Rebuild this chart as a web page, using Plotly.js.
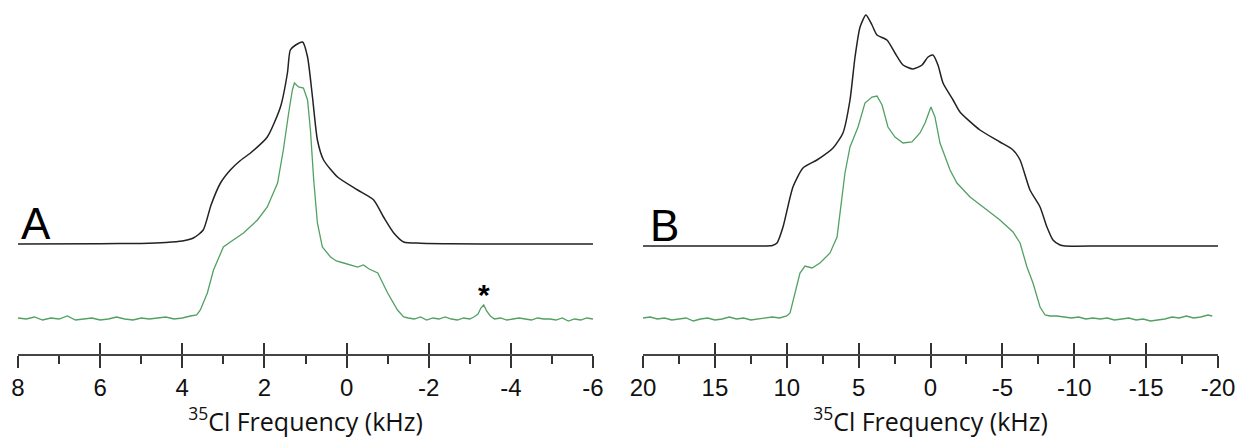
<!DOCTYPE html>
<html>
<head>
<meta charset="utf-8">
<script src="https://cdn.plot.ly/plotly-3.0.1.min.js"></script>
<style>html,body{margin:0;padding:0;background:#fff;}#chart{width:1240px;height:438px;}</style>
</head>
<body>
<div id="chart"></div>
<script>
// ---------- Panel A data (kHz, intensity a.u.) ----------
const simA_x = [8.0, 6.0, 5.0, 4.4, 4.0, 3.73, 3.49, 3.3, 3.07, 2.83, 2.6, 2.34, 1.93, 1.61, 1.44, 1.37, 1.24, 1.07, 0.95, 0.83, 0.71, 0.56, 0.22, -0.27, -0.66, -0.90, -1.15, -1.39, -1.8, -2.5, -4.0, -6.0];
const simA_y = [0, 0.3, 0.6, 1.5, 3, 6, 14, 39, 61, 74, 83, 91, 107, 137, 171, 194, 199, 202, 187, 147, 104, 84, 67, 54, 44, 27, 11, 2, 0.8, 0.3, 0, 0];

const expA_x = [8.0, 7.8, 7.6, 7.4, 7.2, 7.0, 6.8, 6.6, 6.4, 6.2, 6.0, 5.8, 5.6, 5.4, 5.2, 5.0, 4.8, 4.6, 4.4, 4.2, 4.0, 3.8, 3.65,
  3.56, 3.39, 3.24, 3.0, 2.83, 2.51, 2.17, 1.93, 1.68, 1.54, 1.41, 1.32, 1.27, 1.17, 1.05, 0.95, 0.88, 0.80, 0.71, 0.59, 0.39, 0.25, 0.07, -0.1, -0.27, -0.41, -0.55, -0.76, -1.0, -1.24, -1.39,
  -1.5, -1.65, -1.8, -1.95, -2.1, -2.25, -2.4, -2.55, -2.7, -2.85, -3.0, -3.1, -3.2, -3.27, -3.34, -3.41, -3.5, -3.6, -3.75, -3.9, -4.05, -4.2, -4.35, -4.5, -4.65, -4.8, -4.95, -5.1, -5.25, -5.4, -5.55, -5.7, -5.85, -6.0];
const expA_y = [1, 0, 2, -1, 1, 0, 3, -1, 0, 1, -1, 0, 2, 0, -1, 1, 0, 1, 2, 0, 1, 3, 4,
  9, 26, 49, 72, 77, 86, 99, 112, 136, 169, 206, 229, 236, 232, 231, 219, 189, 139, 96, 72, 62, 58, 56, 54, 52, 54, 50, 46, 26, 9, 2,
  1, 0, 2, -1, 1, 0, 2, 0, -1, 1, 0, 2, 5, 11, 14, 8, 3, 0, 1, -1, 0, 1, 0, -1, 1, 0, 0, -1, 1, -2, 0, -1, 1, 0];

// ---------- Panel B data ----------
const simB_x = [20, 15, 12, 11.0, 10.68, 10.26, 9.57, 8.87, 7.90, 6.78, 6.09, 5.60, 5.25, 4.90, 4.49, 4.07, 3.72, 3.03, 2.47, 1.91, 1.22, 0.59, 0.17, -0.17, -0.52, -0.87, -1.57, -2.05, -3.44, -4.83, -5.74, -6.23, -6.92, -7.62, -8.10, -8.52, -9.01, -9.36, -12, -20];
const simB_y = [0, 0, 0, 0.5, 3, 19, 59, 78, 86, 98, 113, 146, 189, 219, 231, 221, 211, 206, 193, 181, 177, 181, 189, 191, 181, 163, 146, 134, 116, 104, 96, 86, 56, 39, 19, 6, 1, 0, 0, 0];

const expB_x = [20, 19.5, 19, 18.5, 18, 17.5, 17, 16.5, 16, 15.5, 15, 14.5, 14, 13.5, 13, 12.5, 12, 11.5, 11, 10.5, 10.0,
  9.77, 9.43, 9.08, 8.73, 8.24, 7.69, 6.99, 6.50, 6.30, 5.95, 5.60, 5.04, 4.56, 4.07, 3.72, 3.37, 2.96, 2.47, 1.91, 1.29, 0.73, 0.38, -0.03, -0.31, -0.66, -1.36, -1.84, -2.75, -3.93, -4.83, -5.74, -6.23, -6.71, -7.13, -7.62, -7.97, -8.31,
  -8.8, -9.3, -9.8, -10.3, -10.8, -11.3, -11.8, -12.3, -12.8, -13.3, -13.8, -14.3, -14.8, -15.3, -15.8, -16.3, -16.8, -17.3, -17.8, -18.3, -18.8, -19.3, -19.6, -20];
const expB_y = [1, 2, 0, 1, -1, 0, 1, -2, 0, 1, -1, 0, 2, 0, 1, -1, 0, 1, 2, 1, 3,
  6, 26, 46, 53, 51, 56, 66, 82, 106, 146, 172, 192, 216, 222, 223, 214, 192, 182, 176, 177, 186, 196, 212, 202, 176, 149, 136, 122, 109, 99, 87, 76, 52, 36, 12, 4, 3,
  3, 2, 1, 2, 0, 1, 0, 1, -1, 0, 1, -1, 0, -2, -1, 0, 2, 1, 3, 1, 2, 4, 3];

// ---------- Axis ticks ----------
const tickA_vals = [8, 6, 4, 2, 0, -2, -4, -6];
const tickA_text = ["8", "6", "4", "2", "0", "-2", "-4", "-6"];
const tickB_vals = [20, 15, 10, 5, 0, -5, -10, -15, -20];
const tickB_text = ["20", "15", "10", "5", "0", "-5", "-10", "-15", "-20"];
const axisTitle = "<sup>35</sup>Cl Frequency (kHz)";
const offsetA = 75, offsetB = 73;

const black = "#222222", green = "#52a063";
const traces = [
  {x: simA_x, y: simA_y.map(v => v + offsetA), xaxis: 'x', yaxis: 'y', mode: 'lines', line: {color: black, width: 1.5, shape: 'spline', smoothing: 0.6}},
  {x: expA_x, y: expA_y, xaxis: 'x', yaxis: 'y', mode: 'lines', line: {color: green, width: 1.3}},
  {x: simB_x, y: simB_y.map(v => v + offsetB), xaxis: 'x2', yaxis: 'y2', mode: 'lines', line: {color: black, width: 1.5, shape: 'spline', smoothing: 0.6}},
  {x: expB_x, y: expB_y, xaxis: 'x2', yaxis: 'y2', mode: 'lines', line: {color: green, width: 1.3}},
  {x: [], y: [], xaxis: 'x3', yaxis: 'y'},
  {x: [], y: [], xaxis: 'x4', yaxis: 'y2'}
];

const tickFont = {family: 'Liberation Sans, Arial, sans-serif', size: 24, color: '#111'};
const titleFont = {family: 'Open Sans, sans-serif', size: 25, color: '#111'};
const domA = [18 / 1240, 593 / 1240], domB = [643 / 1240, 1218 / 1240];
function mainAxis(dom, vals, text, range, minorDt, anchor) {
  return {
    domain: dom, range: range, anchor: anchor, showgrid: false, zeroline: false,
    showline: true, linecolor: '#444', linewidth: 1.5,
    ticks: 'outside', ticklen: 12, tickwidth: 2, tickcolor: '#333',
    tickmode: 'array', tickvals: vals, ticktext: text, tickfont: tickFont,
    minor: {dtick: minorDt, ticks: 'outside', ticklen: 8, tickwidth: 2, tickcolor: '#333', showgrid: false},
    title: {text: axisTitle, font: titleFont, standoff: 0}
  };
}
function upAxis(dom, vals, range, over) {
  return {
    domain: dom, range: range, overlaying: over, anchor: over === 'x' ? 'y' : 'y2', showgrid: false, zeroline: false,
    showline: false, ticks: 'inside', ticklen: 11, tickwidth: 2, tickcolor: '#333',
    tickmode: 'array', tickvals: vals, showticklabels: false
  };
}

const layout = {
  width: 1240, height: 438,
  margin: {l: 0, r: 0, t: 0, b: 84},
  paper_bgcolor: '#fff', plot_bgcolor: '#fff',
  showlegend: false,
  xaxis: mainAxis(domA, tickA_vals, tickA_text, [8, -6], 1, 'y'),
  xaxis2: mainAxis(domB, tickB_vals, tickB_text, [20, -20], 2.5, 'y2'),
  xaxis3: upAxis(domA, tickA_vals, [8, -6], 'x'),
  xaxis4: upAxis(domB, tickB_vals, [20, -20], 'x2'),
  yaxis: {range: [-35, 319], visible: false, anchor: 'x', fixedrange: true},
  yaxis2: {range: [-35, 319], visible: false, anchor: 'x2', fixedrange: true},
  annotations: [
    {text: 'A', xref: 'x domain', yref: 'y', x: 0.002, y: offsetA - 6, xanchor: 'left', yanchor: 'bottom', showarrow: false,
      font: {family: 'Liberation Sans, Arial, sans-serif', size: 44, color: '#000'}},
    {text: 'B', xref: 'x2 domain', yref: 'y2', x: 0.008, y: offsetB - 6, xanchor: 'left', yanchor: 'bottom', showarrow: false,
      font: {family: 'Liberation Sans, Arial, sans-serif', size: 44, color: '#000'}},
    {text: '*', xref: 'x', yref: 'y', x: -3.34, y: 6, xanchor: 'center', yanchor: 'bottom', showarrow: false,
      font: {family: 'Liberation Sans, Arial, sans-serif', size: 30, color: '#000', weight: 'bold'}}
  ]
};

Plotly.newPlot('chart', traces, layout, {staticPlot: true, displayModeBar: false});
</script>
</body>
</html>
